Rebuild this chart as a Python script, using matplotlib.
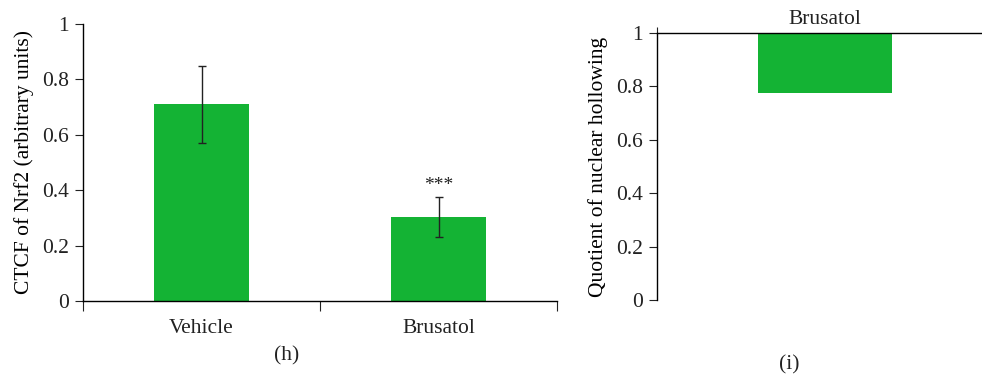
import numpy as np
import matplotlib
matplotlib.use("Agg")
import matplotlib.pyplot as plt

# panel (h)
groups_h = ["Vehicle", "Brusatol"]
ctcf_mean = [0.71, 0.303]
ctcf_err = [0.139, 0.072]
sig_h = ["", "***"]

# panel (i)
groups_i = ["Brusatol"]
quotient = [0.777]

green = "#14b334"
plt.rcParams["font.family"] = ["Liberation Serif", "DejaVu Serif"]
plt.rcParams["font.size"] = 15.5
plt.rcParams["axes.linewidth"] = 1.0
plt.rcParams["text.color"] = "#222222"
plt.rcParams["xtick.color"] = "#222222"
plt.rcParams["ytick.color"] = "#222222"

fig = plt.figure(figsize=(9.82, 3.79), dpi=100)

# (h)
ax1 = fig.add_axes([83/982, 1-301/379, (557-83)/982, (301-24)/379])
x = np.arange(len(groups_h))
ax1.bar(x, ctcf_mean, width=0.4, color=green, zorder=2)
ax1.errorbar(x, ctcf_mean, yerr=ctcf_err, fmt="none", ecolor="#222222",
             elinewidth=1, capsize=3, capthick=1, zorder=3)
for xi, m, e, s in zip(x, ctcf_mean, ctcf_err, sig_h):
    if s:
        ax1.text(xi, m + e + 0.012, s, ha="center", va="bottom", fontsize=14)
ax1.set_xlim(-0.5, len(groups_h) - 0.5)
ax1.set_ylim(0, 1)
ax1.set_yticks([0, 0.2, 0.4, 0.6, 0.8, 1])
ax1.set_yticklabels(["0", "0.2", "0.4", "0.6", "0.8", "1"])
ax1.set_xticks(np.arange(len(groups_h) + 1) - 0.5)
ax1.set_xticklabels([])
ax1.set_xticks(x, minor=True)
ax1.set_xticklabels(groups_h, minor=True)
ax1.tick_params(axis="x", which="major", length=7, direction="out")
ax1.tick_params(axis="x", which="minor", length=0, pad=13)
ax1.tick_params(axis="y", length=6, direction="out", pad=4)
ax1.spines["top"].set_visible(False)
ax1.spines["right"].set_visible(False)
ax1.set_ylabel("CTCF of Nrf2 (arbitrary units)", labelpad=6)
fig.text(287/982, 1-356/379, "(h)", ha="center", va="center", fontsize=15.5)

# (i)
ax2 = fig.add_axes([657/982, 1-300/379, (982-657)/982, (300-33)/379])
xi2 = np.arange(len(groups_i))
ax2.bar(xi2, [q - 1 for q in quotient], bottom=1, width=0.4, color=green, zorder=2)
ax2.set_xlim(-0.5, (982-825)/336)
ax2.set_ylim(0, 1)
ax2.set_yticks([0, 0.2, 0.4, 0.6, 0.8, 1])
ax2.set_yticklabels(["0", "0.2", "0.4", "0.6", "0.8", "1"])
ax2.xaxis.set_ticks_position("top")
ax2.set_xticks([-0.5])
ax2.set_xticklabels([])
ax2.set_xticks(xi2, minor=True)
ax2.set_xticklabels(groups_i, minor=True)
ax2.tick_params(axis="x", which="major", length=4, direction="out", top=True, bottom=False)
ax2.tick_params(axis="x", which="minor", length=0, pad=3, top=True, bottom=False,
                labeltop=True, labelbottom=False)
ax2.tick_params(axis="y", length=6, direction="out", pad=4)
ax2.spines["bottom"].set_visible(False)
ax2.spines["right"].set_visible(False)
ax2.set_ylabel("Quotient of nuclear hollowing", labelpad=6)
fig.text(789/982, 1-365/379, "(i)", ha="center", va="center", fontsize=15.5)

fig.savefig("out.png", dpi=100)
